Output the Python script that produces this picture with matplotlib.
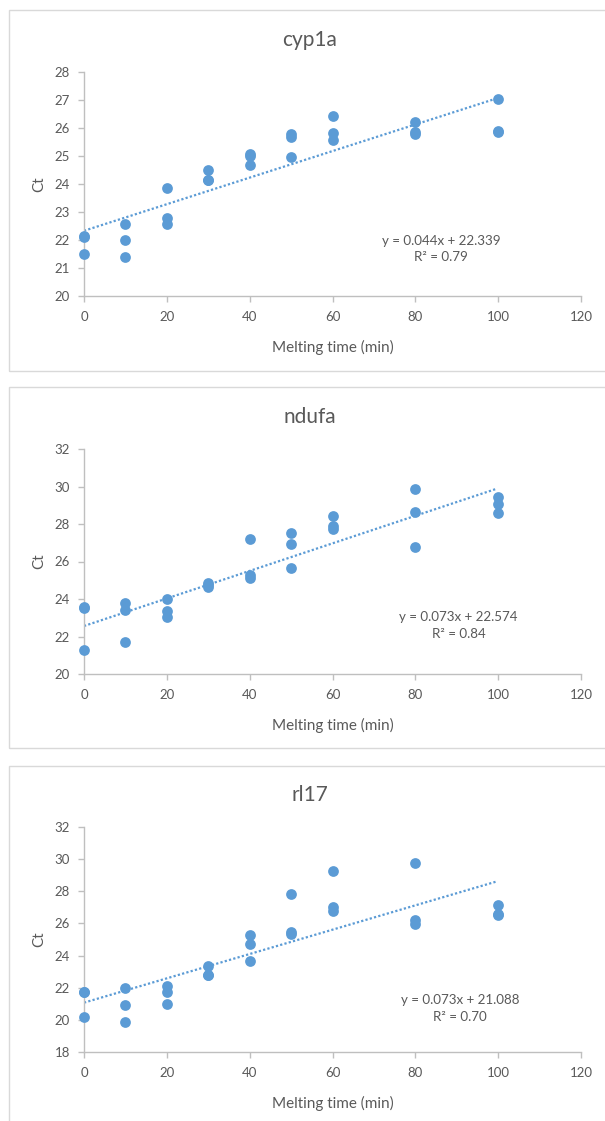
import matplotlib
matplotlib.use("Agg")
import matplotlib.pyplot as plt
from matplotlib.patches import Rectangle
import numpy as np

plt.rcParams['font.family'] = ['Lato', 'DejaVu Sans']

genes = ["cyp1a", "ndufa", "rl17"]

x_cyp1a = [0, 0, 0, 10, 10, 10, 20, 20, 20, 30, 30, 30, 40, 40, 40, 50, 50, 50, 60, 60, 60, 80, 80, 80, 100, 100, 100]
y_cyp1a = [22.13, 22.10, 21.49, 22.58, 21.99, 21.41, 23.84, 22.77, 22.58, 24.51, 24.14, 24.14,
           25.06, 25.00, 24.68, 25.78, 25.69, 24.95, 26.42, 25.83, 25.57, 26.22, 25.85, 25.78,
           27.04, 25.90, 25.86]

x_ndufa = [0, 0, 0, 10, 10, 10, 20, 20, 20, 30, 30, 30, 40, 40, 40, 50, 50, 50, 60, 60, 60, 80, 80, 80, 100, 100, 100]
y_ndufa = [23.56, 23.54, 21.28, 23.81, 23.40, 21.71, 23.99, 23.38, 23.03, 24.88, 24.75, 24.63,
           27.21, 25.29, 25.11, 27.53, 26.93, 25.64, 28.42, 27.90, 27.73, 29.86, 28.65, 26.78,
           29.42, 29.06, 28.58]

x_rl17 = [0, 0, 0, 10, 10, 10, 20, 20, 20, 30, 30, 30, 40, 40, 40, 50, 50, 50, 60, 60, 60, 80, 80, 80, 100, 100, 100]
y_rl17 = [21.73, 21.75, 20.20, 21.96, 20.92, 19.87, 22.13, 21.73, 20.99, 23.37, 22.79, 22.79,
          25.26, 24.72, 23.68, 27.85, 25.47, 25.36, 29.24, 27.00, 26.75, 29.76, 26.23, 25.94,
          27.17, 26.57, 26.50]

# equation labels as printed on the chart
slopes = [0.044, 0.073, 0.073]
intercepts = [22.339, 22.574, 21.088]
r2_values = ["0.79", "0.84", "0.70"]

# trendline as drawn (values read at its two ends)
trend_x = [0, 99.5]
trend_cyp1a = [22.33, 27.05]
trend_ndufa = [22.56, 29.87]
trend_rl17 = [21.07, 28.60]

y_limits = [(20, 28), (20, 32), (18, 32)]
y_steps = [1, 2, 2]
x_ticks = [0, 20, 40, 60, 80, 100, 120]

xs = [x_cyp1a, x_ndufa, x_rl17]
ys = [y_cyp1a, y_ndufa, y_rl17]
trends = [trend_cyp1a, trend_ndufa, trend_rl17]

W, H = 605, 1121
fig = plt.figure(figsize=(W / 100, H / 100), dpi=100)

blue = "#5b9bd5"
txt = "#595959"
axc = "#bfbfbf"

frames = [(9, 10, 612, 371), (9, 387, 612, 748), (9, 766, 612, 1130)]
axes_px = [(84, 72, 581, 296), (84, 449, 581, 674), (84, 827, 581, 1052)]
titles_y = [40, 417, 795]
eq_pos = [(0.718, 0.21), (0.754, 0.216), (0.757, 0.193)]

for i in range(3):
    fx0, fy0, fx1, fy1 = frames[i]
    fig.patches.append(Rectangle((fx0 / W, 1 - fy1 / H), (fx1 - fx0) / W, (fy1 - fy0) / H,
                                 transform=fig.transFigure, fill=False,
                                 edgecolor="#d9d9d9", linewidth=1.0))
    l, t, r, b = axes_px[i]
    ax = fig.add_axes([l / W, 1 - b / H, (r - l) / W, (b - t) / H])
    ax.scatter(xs[i], ys[i], s=60, color=blue, zorder=3, linewidths=0, clip_on=False)
    ax.plot(trend_x, trends[i], linestyle=(0, (1, 1.0)), color=blue,
            linewidth=1.6, zorder=2)
    ax.set_xlim(0, 120)
    ax.set_ylim(*y_limits[i])
    ax.set_xticks(x_ticks)
    ax.set_yticks(np.arange(y_limits[i][0], y_limits[i][1] + 0.01, y_steps[i]))
    for s in ["top", "right"]:
        ax.spines[s].set_visible(False)
    for s in ["left", "bottom"]:
        ax.spines[s].set_color(axc)
        ax.spines[s].set_linewidth(1.0)
    ax.tick_params(axis="both", colors=axc, labelcolor=txt, labelsize=9.5, length=4, width=1)
    ax.tick_params(axis="x", pad=7)
    ax.tick_params(axis="y", pad=6)
    ax.set_xlabel("Melting time (min)", fontsize=11, color=txt)
    ax.xaxis.set_label_coords(0.5, -44 / 225)
    ax.set_ylabel("Ct", fontsize=11, color=txt, va="center")
    ax.yaxis.set_label_coords((39.5 - 84) / 497, 0.5)
    ex, ey = eq_pos[i]
    ax.text(ex, ey, "y = %.3fx + %.3f\nR² = %s" % (slopes[i], intercepts[i], r2_values[i]),
            transform=ax.transAxes, ha="center", va="center", fontsize=9.6, color=txt,
            linespacing=1.45)
    fig.text(310 / W, 1 - titles_y[i] / H, genes[i], ha="center", va="center",
             fontsize=15, color=txt)

fig.savefig("out.png", dpi=100, facecolor="white")
